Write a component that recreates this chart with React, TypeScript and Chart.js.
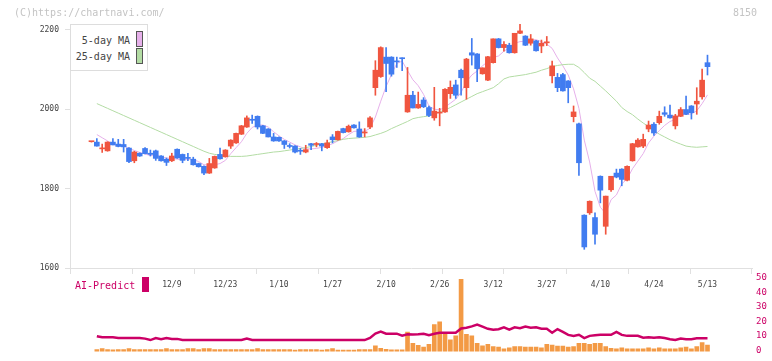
import React, { useEffect, useRef } from 'react';
import { Chart, registerables } from 'chart.js';
Chart.register(...registerables);

const FONT = '"DejaVu Sans Mono", "Liberation Mono", monospace';
const UP = '#f0553f';
const DOWN = '#417cf0';
const PINK = '#e6b0ea';
const GREEN = '#b3dca4';
const ORANGE = '#f39a45';
const AI = '#cc0066';
const AXIS = '#e0e0e0';
const TXT = '#444444';

// candle values (index 0 .. 115)
const openP = [
  1918,1917,1900,1895,1917,1912,1911,1902,1870,1889,
  1901,1889,1895,1882,1874,1870,1899,1886,1878,1874,
  1863,1856,1839,1852,1886,1880,1907,1915,1937,1955,
  1973,1982,1958,1950,1930,1929,1920,1907,1907,1895,
  1892,1913,1911,1913,1903,1930,1923,1951,1943,1960,
  1950,1940,1955,2054,2082,2131,2131,2120,2128,1993,
  2035,2003,2023,2004,1978,1990,1993,2039,2061,2098,
  2054,2142,2139,2089,2073,2117,2177,2155,2161,2142,
  2191,2184,2166,2172,2159,2167,2084,2080,2087,2071,
  1981,1963,1733,1739,1727,1831,1705,1797,1839,1849,
  1821,1870,1905,1907,1950,1962,1966,1991,1985,1958,
  1982,1999,2008,2013,2031,2117,
];
const highP = [
  1919,1926,1912,1918,1926,1924,1924,1903,1894,1890,
  1903,1897,1897,1883,1877,1889,1900,1887,1889,1879,
  1864,1857,1876,1882,1902,1898,1923,1940,1959,1983,
  1985,1983,1959,1951,1939,1930,1921,1913,1908,1901,
  1909,1914,1916,1914,1922,1936,1945,1952,1960,1961,
  1968,1951,1981,2122,2157,2155,2132,2131,2129,2105,
  2045,2043,2029,2008,2055,2002,2052,2071,2073,2101,
  2128,2178,2140,2104,2133,2177,2178,2170,2166,2191,
  2214,2185,2188,2173,2174,2183,2121,2090,2090,2072,
  2008,1965,1734,1769,1739,1832,1781,1831,1849,1850,
  1857,1914,1926,1937,1970,1966,1995,2006,2010,1987,
  2004,2033,2009,2054,2101,2136,
];
const lowP = [
  1917,1907,1891,1894,1910,1905,1892,1865,1865,1881,
  1887,1882,1871,1869,1858,1868,1876,1865,1870,1859,
  1854,1835,1838,1851,1874,1879,1901,1914,1936,1954,
  1964,1950,1938,1930,1919,1919,1901,1902,1890,1886,
  1890,1898,1905,1895,1901,1915,1922,1940,1942,1952,
  1929,1930,1951,2035,2080,2044,2083,2105,2097,1992,
  2003,2002,2004,1981,1972,1958,1992,2027,2027,2035,
  2025,2111,2069,2088,2072,2116,2154,2146,2141,2141,
  2190,2160,2161,2146,2142,2160,2066,2044,2045,2016,
  1968,1833,1647,1735,1660,1764,1685,1793,1827,1807,
  1819,1869,1904,1903,1943,1934,1962,1982,1977,1950,
  1981,1986,1975,1987,2025,2086,
];
const closeP = [
  1919,1907,1901,1917,1910,1906,1905,1868,1892,1882,
  1888,1886,1876,1870,1866,1882,1877,1871,1876,1860,
  1855,1839,1863,1881,1875,1897,1922,1939,1958,1978,
  1972,1955,1939,1930,1920,1920,1911,1906,1892,1894,
  1898,1909,1913,1907,1915,1923,1944,1941,1957,1953,
  1930,1941,1978,2098,2155,2115,2088,2119,2127,2035,
  2003,2012,2006,1984,1995,1991,2050,2055,2035,2079,
  2126,2136,2102,2104,2132,2177,2155,2163,2142,2191,
  2197,2161,2177,2147,2166,2168,2109,2054,2046,2054,
  1993,1865,1653,1768,1685,1796,1781,1831,1829,1823,
  1856,1913,1922,1924,1960,1940,1982,1987,1978,1983,
  1999,1987,1991,2020,2073,2107,
];
const ma5 = [
  null,
  1936,1928,1920,1911,1908,1908,1901,1896,1891,1887,
  1883,1885,1880,1877,1876,1874,1873,1874,1873,1868,
  1860,1859,1860,1863,1871,1888,1903,1918,1939,1954,
  1960,1960,1955,1943,1933,1924,1917,1910,1905,1900,
  1900,1901,1904,1908,1913,1920,1926,1936,1944,1945,
  1944,1952,1980,2020,2057,2087,2115,2121,2097,2074,
  2059,2037,2008,2000,1998,2005,2015,2025,2042,2069,
  2086,2096,2109,2120,2130,2134,2146,2154,2166,2170,
  2171,2174,2175,2170,2164,2153,2129,2109,2086,2051,
  2002,1922,1867,1793,1753,1737,1772,1784,1812,1824,
  1850,1869,1888,1915,1932,1946,1959,1969,1974,1986,
  1987,1988,1996,2014,2036,
];
const ma25 = [
  null,
  2014,2008,2002,1996,1990,1984,1978,1972,1966,1960,
  1954,1948,1942,1936,1930,1924,1918,1912,1906,1900,
  1894,1889,1886,1884,1882,1881,1881,1881,1882,1884,
  1886,1888,1890,1892,1893,1895,1897,1899,1901,1903,
  1906,1909,1912,1915,1918,1921,1924,1926,1927,1928,
  1929,1931,1935,1939,1944,1951,1957,1963,1969,1976,
  1979,1981,1983,1988,1993,1998,2004,2011,2018,2025,
  2032,2039,2044,2049,2054,2064,2076,2081,2083,2085,
  2087,2090,2093,2098,2102,2107,2110,2112,2113,2113,
  2105,2092,2078,2070,2058,2046,2033,2020,2004,1994,
  1986,1975,1965,1956,1946,1937,1930,1923,1917,1912,
  1907,1905,1904,1905,1906,
];
const volume = [
  null,
  29,41,29,25,29,29,41,29,29,29,
  29,29,29,41,29,29,29,41,41,29,
  41,41,29,29,29,29,29,29,29,29,
  41,29,29,29,29,29,29,21,29,29,
  29,29,21,29,41,21,21,21,21,29,
  29,29,78,45,30,25,25,25,269,112,
  87,62,99,372,409,236,161,215,992,236,
  215,112,78,99,70,62,37,50,70,70,
  62,62,62,50,99,91,74,74,62,70,
  112,112,99,112,112,70,46,37,50,37,
  37,37,37,50,37,50,37,37,37,50,
  62,37,70,124,91,
];
const aiPredict = [
  null,
  9.7,8.9,8.9,8.9,8.5,8.5,8.5,8.5,8.5,8.0,
  7.0,8.4,7.6,8.4,7.8,7.8,7.0,7.0,7.0,7.0,
  7.0,7.0,7.0,7.0,7.0,7.0,7.0,7.0,8.0,7.0,
  7.0,7.0,7.0,7.0,7.0,7.0,7.0,7.0,7.0,7.0,
  7.0,7.0,7.0,7.0,7.0,7.0,7.0,7.0,7.0,7.0,
  7.0,8.5,11.5,12.8,11.4,11.4,11.4,10.0,11.0,10.8,
  11.0,11.4,10.4,11.4,12.1,12.1,12.1,12.1,15.0,15.5,
  16.5,17.8,16.3,14.8,14.2,14.5,15.8,14.2,15.8,15.2,
  16.4,15.5,15.8,14.8,14.8,12.1,14.6,12.7,10.6,9.9,
  10.7,8.4,9.9,10.3,10.6,10.7,10.6,12.7,10.6,9.9,
  9.9,9.9,8.6,9.0,8.6,9.0,8.4,7.6,7.0,8.1,
  7.6,7.6,8.2,8.2,8.2,
];
const tickIdx = [15, 25, 35, 45, 55, 65, 75, 85, 95, 105, 115];
const tickText = ['12/9', '12/23', '1/10', '1/27', '2/10', '2/26', '3/12', '3/27', '4/10', '4/24', '5/13'];
const priceTicks = [1600, 1800, 2000, 2200];
const aiTicks = [0, 10, 20, 30, 40, 50];

const XMIN = -4.01;
const XMAX = 123.31;
const GRID_DIV = 11;

export default function App() {
  const mainRef = useRef<HTMLCanvasElement>(null);
  const subRef = useRef<HTMLCanvasElement>(null);

  useEffect(() => {
    document.body.style.margin = '0';
    const idx = closeP.map((_, i) => i);
    const colors = idx.map((i) => (closeP[i] >= openP[i] ? UP : DOWN));

    const main = new Chart(mainRef.current as HTMLCanvasElement, {
      type: 'bar',
      data: {
        datasets: [
          {
            type: 'line',
            data: idx.map((i) => ({ x: i, y: ma5[i] })),
            borderColor: PINK,
            borderWidth: 1,
            pointRadius: 0,
            xAxisID: 'x',
            yAxisID: 'y',
            order: 3,
          } as any,
          {
            type: 'line',
            data: idx.map((i) => ({ x: i, y: ma25[i] })),
            borderColor: GREEN,
            borderWidth: 1,
            pointRadius: 0,
            xAxisID: 'x',
            yAxisID: 'y',
            order: 2,
          } as any,
          {
            type: 'bar',
            data: idx.map((i) => ({ x: i, y: [lowP[i], highP[i]] })),
            backgroundColor: colors,
            barThickness: 1,
            grouped: false,
            xAxisID: 'x',
            yAxisID: 'y',
            order: 1,
          } as any,
          {
            type: 'bar',
            data: idx.map((i) => ({ x: i, y: [openP[i], closeP[i]] })),
            backgroundColor: colors,
            barThickness: 5,
            minBarLength: 1,
            grouped: false,
            xAxisID: 'x',
            yAxisID: 'y',
            order: 0,
          } as any,
        ],
      },
      options: {
        responsive: false,
        animation: false,
        devicePixelRatio: 1,
        layout: { padding: { left: 0, right: 20, top: 24, bottom: 57 } },
        plugins: { legend: { display: false }, tooltip: { enabled: false } },
        scales: {
          x: {
            type: 'linear',
            position: 'bottom',
            offset: false,
            weight: 1,
            min: XMIN,
            max: XMAX,
            grid: { display: false, drawTicks: false, offset: false },
            border: { display: false },
            afterBuildTicks: (s: any) => {
              s.ticks = tickIdx.map((v) => ({ value: v }));
            },
            afterFit: (s: any) => {
              s.height = 30;
            },
            ticks: {
              callback: (_v: any, i: number) => tickText[i],
              font: { family: FONT, size: 8 },
              color: TXT,
              padding: 6,
              maxRotation: 0,
              minRotation: 0,
              autoSkip: false,
            },
          },
          xg: {
            type: 'linear',
            position: 'bottom',
            offset: false,
            weight: 0,
            min: XMIN,
            max: XMAX,
            grid: { drawOnChartArea: false, tickLength: 6, color: AXIS, offset: false },
            border: { display: true, color: AXIS },
            ticks: { display: false },
            afterBuildTicks: (s: any) => {
              const arr = [];
              for (let k = 0; k <= GRID_DIV; k++) arr.push({ value: XMIN + (k * (XMAX - XMIN)) / GRID_DIV });
              s.ticks = arr;
            },
            afterFit: (s: any) => {
              s.height = 6;
            },
          },
          y: {
            position: 'left',
            min: 1600,
            max: 2214.4,
            grid: { drawOnChartArea: false, tickLength: 5, color: AXIS },
            border: { display: true, color: AXIS },
            afterBuildTicks: (s: any) => {
              s.ticks = priceTicks.map((v) => ({ value: v }));
            },
            afterFit: (s: any) => {
              s.width = 70;
            },
            ticks: {
              font: { family: FONT, size: 8 },
              color: TXT,
              padding: 6,
              callback: (v: any) => String(v),
            },
          },
        },
      } as any,
    });

    const sub = new Chart(subRef.current as HTMLCanvasElement, {
      type: 'bar',
      data: {
        datasets: [
          {
            type: 'line',
            data: idx.map((i) => ({ x: i, y: aiPredict[i] })),
            borderColor: AI,
            borderWidth: 2.5,
            pointRadius: 0,
            xAxisID: 'x',
            yAxisID: 'ya',
            order: 0,
          } as any,
          {
            type: 'bar',
            data: idx.map((i) => ({ x: i, y: volume[i] })),
            backgroundColor: ORANGE,
            barThickness: 4,
            xAxisID: 'x',
            yAxisID: 'yv',
            order: 1,
          } as any,
        ],
      },
      options: {
        responsive: false,
        animation: false,
        devicePixelRatio: 1,
        layout: { padding: { left: 70, right: 0, top: 278, bottom: 2 } },
        plugins: { legend: { display: false }, tooltip: { enabled: false } },
        scales: {
          x: { type: 'linear', display: false, offset: false, min: XMIN, max: XMAX, grid: { offset: false } },
          ya: {
            position: 'right',
            min: -1,
            max: 50,
            grid: { display: false, drawTicks: false },
            border: { display: false },
            afterBuildTicks: (s: any) => {
              s.ticks = aiTicks.map((v) => ({ value: v }));
            },
            afterFit: (s: any) => {
              s.width = 20;
            },
            ticks: { font: { family: FONT, size: 9 }, color: AI, padding: 4, callback: (v: any) => String(v) },
          },
          yv: { display: false, min: 0, max: 1009 },
        },
      } as any,
    });

    return () => {
      main.destroy();
      sub.destroy();
    };
  }, []);

  const txt: React.CSSProperties = {
    position: 'absolute',
    fontFamily: FONT,
    fontSize: '10px',
    lineHeight: '12px',
    whiteSpace: 'nowrap',
  };

  return (
    <div style={{ position: 'relative', width: 772, height: 361, background: '#fff', overflow: 'hidden' }}>
      <canvas ref={mainRef} width={772} height={361} style={{ position: 'absolute', left: 0, top: 0 }} />
      <canvas ref={subRef} width={772} height={361} style={{ position: 'absolute', left: 0, top: 0 }} />
      <span style={{ ...txt, left: 14, top: 6.5, color: '#c4c4c4' }}>(C)https://chartnavi.com/</span>
      <span style={{ ...txt, right: 15, top: 6.5, color: '#c4c4c4' }}>8150</span>
      <div
        style={{
          position: 'absolute',
          left: 70,
          top: 24,
          width: 78,
          height: 47,
          boxSizing: 'border-box',
          border: '1px solid #dddddd',
          background: '#fff',
        }}
      />
      <span style={{ ...txt, right: 772 - 130, top: 35, color: TXT }}>5-day MA</span>
      <span style={{ ...txt, right: 772 - 130, top: 51, color: TXT }}>25-day MA</span>
      <div
        style={{
          position: 'absolute',
          left: 136,
          top: 31,
          width: 7,
          height: 16,
          boxSizing: 'border-box',
          border: '1px solid #555',
          background: PINK,
        }}
      />
      <div
        style={{
          position: 'absolute',
          left: 136,
          top: 48,
          width: 7,
          height: 16,
          boxSizing: 'border-box',
          border: '1px solid #555',
          background: GREEN,
        }}
      />
      <span style={{ ...txt, left: 75, top: 279.5, color: AI }}>AI-Predict</span>
      <div style={{ position: 'absolute', left: 142, top: 277, width: 7, height: 15, background: AI }} />
    </div>
  );
}
